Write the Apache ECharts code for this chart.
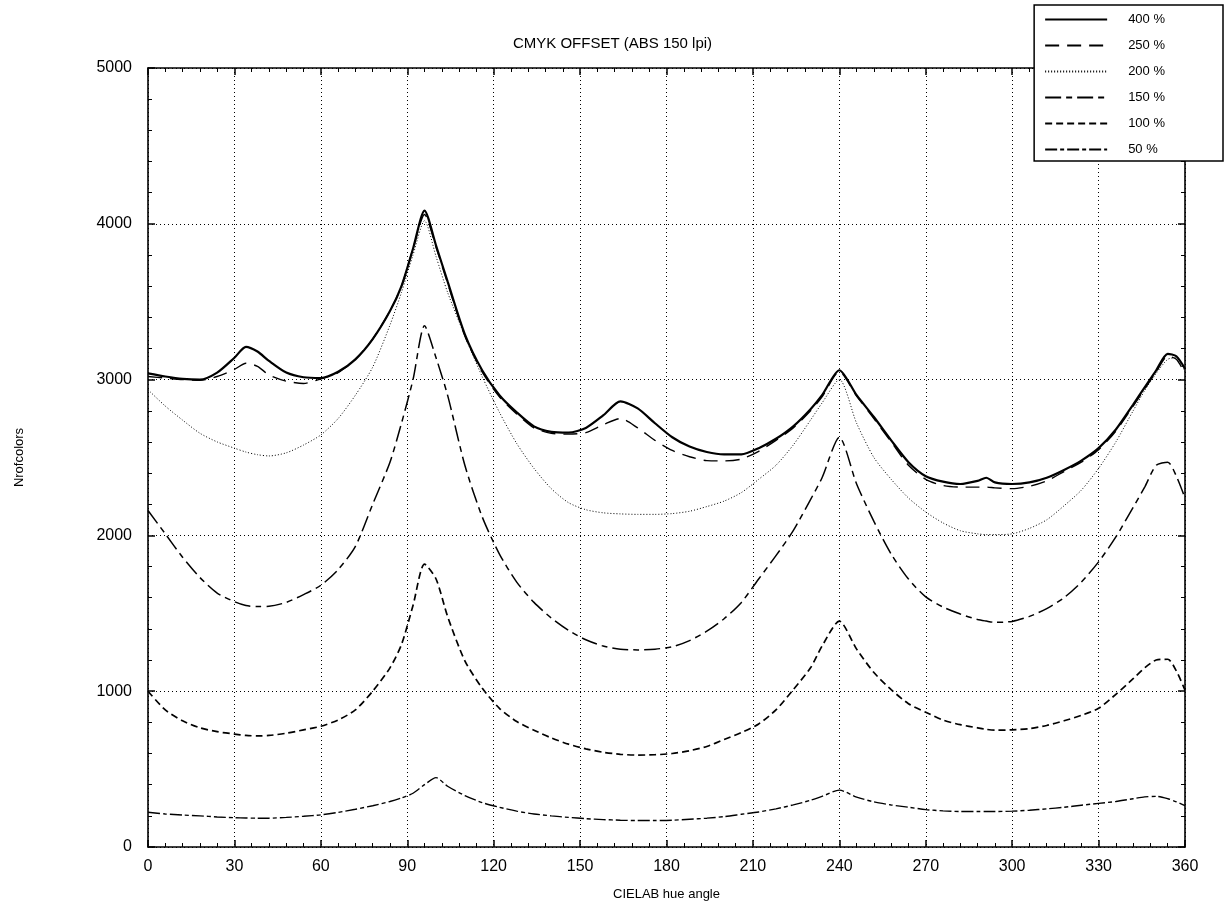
<!DOCTYPE html>
<html>
<head>
<meta charset="utf-8">
<title>CMYK OFFSET (ABS 150 lpi)</title>
<script src="https://cdn.jsdelivr.net/npm/echarts@6/dist/echarts.min.js"></script>
<style>
  html, body { margin: 0; padding: 0; background: #fff; }
  #chart { width: 1225px; height: 916px; }
</style>
</head>
<body>
<div id="chart"></div>
<script>
// hue angles shared by every curve
const hue = [0, 6, 12, 18, 24, 30, 34, 38, 42, 48, 54, 60, 66, 72, 78, 84, 88, 92, 96, 100,
  104, 110, 116, 122, 128, 134, 140, 146, 152, 158, 164, 170, 176, 182, 188, 194, 200, 206,
  212, 218, 224, 230, 234, 240, 246, 252, 258, 264, 270, 276, 282, 288, 291, 294, 300, 306,
  312, 318, 324, 330, 336, 342, 346, 350, 354, 357, 360]

const ink400 = [3040, 3020, 3005, 3000, 3045, 3140, 3210, 3180, 3120, 3045, 3015, 3010, 3050, 3130, 3260, 3440, 3600, 3840, 4085, 3860,
  3630, 3290, 3060, 2900, 2790, 2700, 2665, 2660, 2690, 2770, 2860, 2815, 2720, 2630, 2570, 2535, 2520, 2520,
  2560, 2620, 2700, 2810, 2900, 3060, 2900, 2760, 2610, 2470, 2380, 2345, 2330, 2350, 2370, 2340, 2330, 2340,
  2370, 2420, 2480, 2560, 2680, 2840, 2950, 3060, 3165, 3150, 3070]

const ink250 = [3020, 3010, 3000, 2995, 3020, 3065, 3105, 3085, 3030, 2990, 2975, 3005, 3045, 3130, 3260, 3440, 3600, 3840, 4060, 3850,
  3620, 3280, 3050, 2890, 2780, 2690, 2655, 2650, 2660, 2710, 2750, 2690, 2610, 2545, 2505, 2480, 2478, 2490,
  2540, 2610, 2690, 2800, 2890, 3050, 2895, 2750, 2600, 2450, 2360, 2320, 2310, 2310, 2310, 2305, 2300, 2315,
  2350, 2410, 2470, 2550, 2670, 2830, 2940, 3050, 3150, 3130, 3040]

const ink200 = [2935, 2830, 2740, 2656, 2600, 2560, 2535, 2518, 2510, 2530, 2580, 2645, 2750, 2900, 3080, 3350, 3560, 3800, 4020, 3790,
  3560, 3280, 3020, 2790, 2590, 2430, 2300, 2210, 2165, 2145, 2138, 2135, 2135, 2140, 2155, 2185, 2220, 2275,
  2360, 2450, 2580, 2740, 2850, 3000, 2720, 2500, 2360, 2240, 2150, 2080, 2030, 2010, 2005, 2005, 2010, 2045,
  2100, 2190, 2290, 2430, 2600, 2800, 2930, 3040, 3130, 3140, 3050]

const ink150 = [2160, 2010, 1860, 1730, 1630, 1575, 1550, 1543, 1545, 1570, 1620, 1680, 1780, 1930, 2200, 2470, 2720, 3000, 3345, 3140,
  2900, 2450, 2120, 1880, 1700, 1570, 1470, 1390, 1330, 1290, 1270, 1265, 1270, 1285, 1325, 1385, 1465, 1570,
  1720, 1870, 2030, 2230, 2370, 2630, 2330, 2090, 1880, 1720, 1605, 1540, 1495, 1460, 1450, 1442, 1448, 1480,
  1530, 1600, 1700, 1830, 1990, 2180, 2310, 2450, 2470, 2380, 2240]

const ink100 = [1000, 880, 810, 765, 740, 725, 716, 713, 716, 730, 752, 775, 815, 880, 1000, 1150, 1300, 1550, 1815, 1720,
  1480, 1195, 1020, 890, 805, 750, 700, 660, 630, 608, 595, 590, 592, 600, 618, 645, 690, 735,
  790, 880, 1010, 1150, 1290, 1450, 1270, 1120, 1010, 920, 865, 815, 785, 765, 755, 750, 752, 760,
  780, 810, 845, 890, 980, 1080, 1150, 1200, 1205, 1130, 1006]

const ink50 = [223, 212, 205, 200, 193, 188, 186, 185, 185, 190, 197, 206, 222, 242, 265, 292, 315, 345, 400, 445,
  390, 330, 285, 255, 230, 212, 200, 190, 182, 176, 172, 170, 170, 172, 178, 185, 195, 210,
  225, 245, 270, 300, 325, 365, 320, 290, 270, 255, 240, 232, 228, 228, 228, 228, 230, 236,
  245, 255, 268, 280, 292, 310, 322, 325, 310, 290, 265]

const seriesNames = ['400 %', '250 %', '200 %', '150 %', '100 %', '50 %']
const xTicks = { min: 0, max: 360, step: 30 }
const yTicks = { min: 0, max: 5000, step: 1000 }

const FONT = '"Liberation Sans", Arial, Helvetica, sans-serif'

const pairs = (ys) => hue.map((h, i) => [h, ys[i]])

const lineStyles = [
  { width: 2.2, type: 'solid' },
  { width: 1.4, type: [14, 8] },
  { width: 1, type: [1, 2] },
  { width: 1.5, type: [16, 5, 6, 5] },
  { width: 1.7, type: [7, 4] },
  { width: 1.4, type: [12, 3, 4, 3] }
]

const chart = echarts.init(document.getElementById('chart'), null, { renderer: 'canvas' })

const frameAxis = (extra) => Object.assign({
  type: 'value',
  axisLine: { show: true, onZero: false, lineStyle: { color: '#000', width: 1.6 } },
  axisTick: { show: true, inside: true, length: 7, lineStyle: { color: '#000', width: 1.5 } },
  minorTick: { show: true, splitNumber: 5, length: 4, lineStyle: { color: '#000', width: 1 } },
  splitLine: { show: false }
}, extra)

chart.setOption({
  animation: false,
  backgroundColor: '#fff',
  textStyle: { fontFamily: FONT, color: '#000' },
  title: {
    text: 'CMYK OFFSET (ABS 150 lpi)',
    left: 'center',
    top: 31,
    textStyle: { fontFamily: FONT, fontSize: 15, fontWeight: 'normal', color: '#000' }
  },
  legend: {
    orient: 'vertical',
    right: 2,
    top: 5,
    data: seriesNames,
    itemWidth: 62,
    itemHeight: 12,
    itemGap: 13,
    padding: [8, 58, 5, 10],
    backgroundColor: '#fff',
    borderColor: '#000',
    borderWidth: 1.5,
    borderRadius: 0,
    itemStyle: { opacity: 0 },
    textStyle: { fontFamily: FONT, fontSize: 13, color: '#000', padding: [0, 0, 0, 16] }
  },
  grid: { left: 148, right: 40, top: 68, bottom: 69 },
  xAxis: [
    frameAxis({
      min: xTicks.min, max: xTicks.max, interval: xTicks.step,
      position: 'bottom',
      name: 'CIELAB hue angle',
      nameLocation: 'middle',
      nameGap: 41,
      nameTextStyle: { fontFamily: FONT, fontSize: 13, color: '#000' },
      axisLabel: { fontFamily: FONT, fontSize: 16, color: '#000', margin: 12 },
      splitLine: { show: true, lineStyle: { color: '#000', width: 1, type: [1, 3] } }
    }),
    frameAxis({
      min: xTicks.min, max: xTicks.max, interval: xTicks.step,
      position: 'top',
      axisLabel: { show: false }
    })
  ],
  yAxis: [
    frameAxis({
      min: yTicks.min, max: yTicks.max, interval: yTicks.step,
      position: 'left',
      name: 'Nrofcolors',
      nameLocation: 'middle',
      nameGap: 122,
      nameRotate: 90,
      nameTextStyle: { fontFamily: FONT, fontSize: 13, color: '#000' },
      axisLabel: { fontFamily: FONT, fontSize: 16, color: '#000', margin: 16, formatter: (v) => String(v) },
      splitLine: { show: true, lineStyle: { color: '#000', width: 1, type: [1, 3] } }
    }),
    frameAxis({
      min: yTicks.min, max: yTicks.max, interval: yTicks.step,
      position: 'right',
      axisLabel: { show: false }
    })
  ],
  series: [ink400, ink250, ink200, ink150, ink100, ink50].map((ys, i) => ({
    name: seriesNames[i],
    type: 'line',
    xAxisIndex: 0,
    yAxisIndex: 0,
    data: pairs(ys),
    symbol: 'none',
    smooth: 0.25,
    color: '#000',
    lineStyle: Object.assign({ color: '#000' }, lineStyles[i]),
    z: 10 - i
  }))
})
</script>
</body>
</html>
